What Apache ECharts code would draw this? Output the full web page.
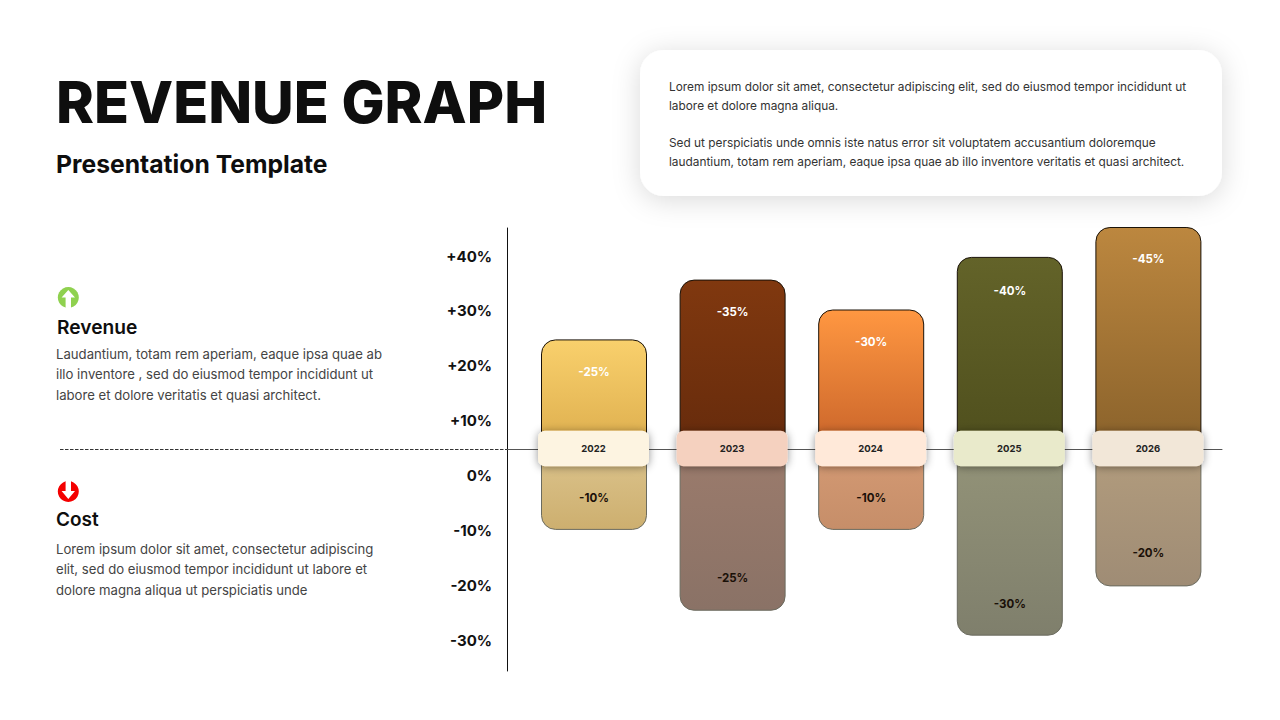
<!DOCTYPE html>
<html><head><meta charset="utf-8">
<style>html,body{margin:0;padding:0;background:#fff}#c{width:1280px;height:720px}</style>
<script src="https://cdn.jsdelivr.net/npm/echarts@6/dist/echarts.min.js"></script>
</head><body><div id="c"></div>
<script>
const years = ['2022','2023','2024','2025','2026'];
const tickLabels = ['-30%','-20%','-10%','0%','+10%','+20%','+30%','+40%'];
// bar extents read on the chart's own scale (the printed labels differ from the drawn heights in the source)
const revenueHeights = [19.7,30.5,25.1,34.6,40];
const costHeights = [-14.7,-29.3,-14.7,-33.8,-24.9];
const revenueLabels = ['-25%','-35%','-30%','-40%','-45%'];
const costLabels = ['-10%','-25%','-10%','-30%','-20%'];
const revenueLabelGap = [27,26,26,28,26];
const costLabelGap = [26,27,26,26,27];
const revenueTop = ['#F9D06C','#80380F','#FF9741','#636329','#BC873F'];
const revenueBottom = ['#DDAE4E','#662B0C','#C9642A','#4F4F1D','#8A622B'];
const costTop = ['#DCC48D','#9B7B6C','#D49A74','#939378','#B29C7D'];
const costBottom = ['#CDAF6F','#8A7266','#C68E69','#7F7F6C','#9F8C75'];
const chipColors = ['#FDF4E1','#F5D1BF','#FFE9D9','#E9EACB','#F2E7D8'];
const title = 'REVENUE GRAPH';
const subtitle = 'Presentation Template';
const cardLines = ['Lorem ipsum dolor sit amet, consectetur adipiscing elit, sed do eiusmod tempor incididunt ut','labore et dolore magna aliqua.','Sed ut perspiciatis unde omnis iste natus error sit voluptatem accusantium doloremque','laudantium, totam rem aperiam, eaque ipsa quae ab illo inventore veritatis et quasi architect.'];
const revenueHead = 'Revenue';
const revenueText = ['Laudantium, totam rem aperiam, eaque ipsa quae ab','illo inventore , sed do eiusmod tempor incididunt ut','labore et dolore veritatis et quasi architect.'];
const costHead = 'Cost';
const costText = ['Lorem ipsum dolor sit amet, consectetur adipiscing','elit, sed do eiusmod tempor incididunt ut labore et','dolore magna aliqua ut perspiciatis unde'];

const F = 'Inter, "Noto Sans", sans-serif';
const grad = (a,b)=>({type:'linear',x:0,y:0,x2:0,y2:1,colorStops:[{offset:0,color:a},{offset:1,color:b}]});
const txt = (x,y,text,size,weight,fill)=>({type:'text',x,y,style:{text,font:`${weight} ${size}px ${F}`,fill,verticalAlign:'middle'},z:5});
const G=[
 {type:'rect',shape:{x:640,y:50,width:582,height:146,r:24},style:{fill:'#fff',shadowBlur:28,shadowColor:'rgba(0,0,0,0.15)',shadowOffsetY:4},z:1},
 txt(56,102,title,57.4,800,'#0e0e0e'),
 txt(56,163.5,subtitle,24.7,700,'#0e0e0e'),
 txt(669,86.5,cardLines[0],11.85,400,'#333'),txt(669,105.5,cardLines[1],11.85,400,'#333'),
 txt(669,142.5,cardLines[2],11.85,400,'#333'),txt(669,161.5,cardLines[3],11.85,400,'#333'),
 {type:'circle',shape:{cx:68.3,cy:297.5,r:10.5},style:{fill:'#8FD14F'},z:5},
 {type:'polygon',shape:{points:[[68.3,290],[75,297.5],[71,297.5],[71,308.5],[65.6,308.5],[65.6,297.5],[61.6,297.5]]},style:{fill:'#fff'},z:6},
 {type:'circle',shape:{cx:68.3,cy:491.5,r:10.5},style:{fill:'#F40000'},z:5},
 {type:'polygon',shape:{points:[[68.3,499],[75,491],[71,491],[71,480.5],[65.6,480.5],[65.6,491],[61.6,491]]},style:{fill:'#fff'},z:6},
 txt(57,326.5,revenueHead,19.2,600,'#0e0e0e'),
 txt(56,353.5,revenueText[0],13.15,400,'#444'),txt(56,374,revenueText[1],13.15,400,'#444'),txt(56,394.5,revenueText[2],13.15,400,'#444'),
 txt(56,519.5,costHead,19,600,'#0e0e0e'),
 txt(56,548.5,costText[0],13.15,400,'#444'),txt(56,569,costText[1],13.15,400,'#444'),txt(56,589.5,costText[2],13.15,400,'#444'),
 {type:'line',shape:{x1:60,y1:449.5,x2:507,y2:449.5},style:{stroke:'#333',lineWidth:1,lineDash:[3.5,1.5]},z:2}
];

const chart = echarts.init(document.getElementById('c'),null,{width:1280,height:720,renderer:'svg'});
const gridTop=227, gridH=443;
chart.setOption({
 animation:false,
 backgroundColor:'#fff',
 graphic:G,
 grid:[
  {left:507,width:715,top:gridTop+1,height:gridH},
  {left:524.7,width:693,top:gridTop,height:gridH},
  {left:507,width:715,top:228.6,height:439}
 ],
 xAxis:[
  {gridIndex:0,type:'value',min:0,max:1,axisLine:{onZero:true,lineStyle:{color:'#555',width:1}},axisTick:{show:false},axisLabel:{show:false},splitLine:{show:false}},
  {gridIndex:1,type:'category',data:years,axisLine:{show:false},axisTick:{show:false},axisLabel:{show:false},splitLine:{show:false}},
  {gridIndex:2,type:'value',min:0,max:1,show:false}
 ],
 yAxis:[
  {gridIndex:0,type:'value',min:-40,max:40,interval:10,position:'left',
   axisLine:{show:true,onZero:false,lineStyle:{color:'#111',width:1}},axisTick:{show:false},axisLabel:{show:false},splitLine:{show:false}},
  {gridIndex:1,type:'value',min:-40,max:40,interval:10,show:false},
  {gridIndex:2,type:'category',data:tickLabels,boundaryGap:true,position:'left',
   axisLine:{show:false},axisTick:{show:false},splitLine:{show:false},
   axisLabel:{margin:15,fontFamily:F,fontSize:15,fontWeight:700,color:'#111'}}
 ],
 series:[
  {type:'bar',xAxisIndex:1,yAxisIndex:1,barWidth:106,barGap:'-100%',z:3,
   data:revenueHeights.map((v,i)=>({value:v,
     itemStyle:{color:grad(revenueTop[i],revenueBottom[i]),borderColor:'#1a1208',borderWidth:1,borderRadius:[14,14,0,0]},
     label:{formatter:revenueLabels[i],distance:revenueLabelGap[i]}})),
   label:{show:true,position:'insideTop',color:'#fff',fontFamily:F,fontSize:11.5,fontWeight:700}},
  {type:'bar',xAxisIndex:1,yAxisIndex:1,barWidth:106,z:3,
   data:costHeights.map((v,i)=>({value:v,
     itemStyle:{color:grad(costTop[i],costBottom[i]),borderColor:'#6b6b5f',borderWidth:1,borderRadius:[0,0,14,14]},
     label:{formatter:costLabels[i],distance:costLabelGap[i]}})),
   label:{show:true,position:'insideBottom',color:'#1a1008',fontFamily:F,fontSize:11.5,fontWeight:700}},
  {type:'custom',xAxisIndex:1,yAxisIndex:1,z:6,coordinateSystem:'cartesian2d',
   data:years.map((y,i)=>[i,0,y]),
   encode:{x:0,y:1},
   renderItem:(p,api)=>{
     const c=api.coord([api.value(0),0]);
     const i=p.dataIndex;
     return {type:'rect',shape:{x:c[0]-56,y:c[1]-17.8,width:111,height:35.5,r:7},
       style:{fill:chipColors[i],shadowBlur:8,shadowColor:'rgba(0,0,0,0.42)',shadowOffsetY:1},
       textContent:{type:'text',style:{text:years[i],font:`700 9.5px ${F}`,fill:'#222'}},
       textConfig:{position:'inside'}};
   }}
 ]
});
</script></body></html>
